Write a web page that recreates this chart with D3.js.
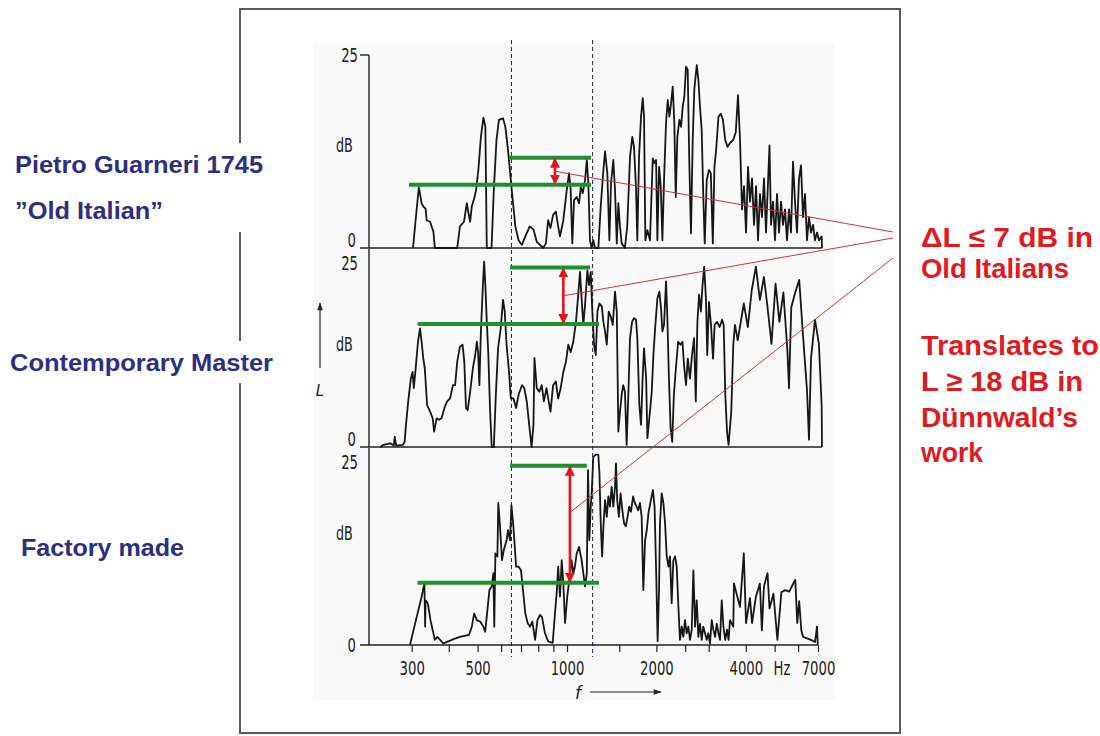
<!DOCTYPE html>
<html>
<head>
<meta charset="utf-8">
<script src="https://cdn.jsdelivr.net/npm/d3@7"></script>
<style>
  body { margin: 0; background: #fff; }
  .tick text, .num { font-family: "Liberation Sans Narrow", "DejaVu Sans Condensed", "Liberation Sans", sans-serif; font-size: 20px; fill: #222; }
</style>
</head>
<body>
<script>
var w = 1100, h = 736;

// spectra: [frequency in Hz, level in dB]
var guarneri = [[303,0],[317,7.9],[324,5.8],[328,5.4],[334,5.1],[337,3.6],[346,3.4],[355,2.1],[359,0],[427,0],[436,2.8],[450,3.4],[460,5.8],[466,4.5],[472,3.4],[478,5.4],[487,6.4],[494,7.5],[503,10.1],[513,14.4],[523,16.9],[531,15.7],[537,0],[557,0],[567,7.5],[579,14],[590,16.6],[609,16.8],[620,15.7],[633,12.7],[650,7.9],[670,2.8],[687,1.0],[705,0.4],[724,1.5],[749,2.8],[771,2.4],[791,0.8],[832,0],[849,0.6],[864,3.6],[880,2.6],[898,4.3],[917,4.7],[934,2.8],[947,1.5],[972,3.6],[998,7.5],[1016,9.7],[1029,7.5],[1042,0.6],[1056,6.2],[1078,6.6],[1098,5.8],[1113,7.9],[1130,7.1],[1150,8.8],[1166,11.4],[1180,8.4],[1195,1.0],[1211,0],[1226,1.0],[1243,0],[1275,0],[1299,5.4],[1326,10.1],[1343,12.5],[1367,9.7],[1389,1.0],[1407,8.4],[1432,11.4],[1451,7.5],[1471,0.6],[1489,5.8],[1508,2.8],[1528,0.6],[1567,0],[1595,2.8],[1630,11.8],[1659,14.4],[1681,13.1],[1707,7.9],[1725,1.0],[1748,11.8],[1775,17.0],[1799,19.4],[1817,17.0],[1836,1.0],[1865,2.3],[1903,1.0],[1944,11.6],[1968,11.0],[1995,11.4],[2015,1.0],[2042,10.5],[2069,7.9],[2095,1.0],[2122,8.8],[2155,16.2],[2184,19.2],[2212,17.0],[2240,18.7],[2270,20.9],[2298,16.2],[2324,6.6],[2353,14.4],[2390,16.6],[2421,15.7],[2453,18.3],[2483,19.6],[2516,23.5],[2549,23.1],[2581,11.0],[2615,1.9],[2650,14.0],[2683,20.5],[2734,23.7],[2769,21.8],[2804,18.3],[2841,15.3],[2877,6.6],[2909,0.6],[2954,8.8],[3008,10.1],[3049,9.7],[3097,0.6],[3136,10.5],[3178,12.7],[3236,17.0],[3297,17.4],[3349,16.6],[3410,14.0],[3472,13.1],[3538,13.6],[3630,14.0],[3700,15],[3765,19.8],[3824,14],[3884,5],[3945,8],[4007,2],[4069,10.5],[4132,6],[4197,9],[4263,3],[4330,8],[4397,1],[4465,7],[4535,4],[4606,9],[4678,2],[4806,13.3],[4863,3],[4939,6],[5016,1],[5094,7],[5174,2],[5255,6],[5337,3],[5420,5],[5505,1],[5591,5],[5678,2],[5767,11.2],[5857,6],[5949,2],[6041,9],[6136,10.7],[6232,4],[6329,7],[6428,1],[6528,4],[6630,2],[6734,3],[6839,1],[6946,2],[7054,1],[7203,1.5],[7220,0]];

var master = [[235,0],[241,0.3],[254,0.5],[261,0.2],[263,1.4],[266,0.2],[280,0.3],[284,0.7],[287,3.0],[292,6.2],[298,9.3],[302,10.2],[305,8.0],[310,11.1],[315,14.3],[320,16.1],[324,14.3],[328,12.1],[332,10.7],[338,5.7],[346,4.8],[353,3.9],[357,2.1],[364,3.9],[371,3.7],[378,3.9],[388,5.5],[395,6.2],[404,6.6],[413,8.4],[420,8.4],[427,11.6],[436,13.6],[445,13.9],[451,11.6],[457,5.3],[463,5.0],[472,7.5],[482,10.7],[491,12.5],[497,14.3],[502,12.9],[507,8.4],[513,15.7],[521,22.0],[526,25.2],[531,22.0],[537,17.0],[543,12.9],[551,4.8],[558,0],[567,0],[576,7.1],[586,13.4],[598,16.1],[609,20.0],[617,18.4],[626,13.9],[638,10.2],[647,6.6],[660,6.6],[674,5.3],[687,7.1],[705,8.4],[718,8.0],[732,6.2],[746,3.0],[760,0],[771,3.0],[777,12.1],[791,8.0],[807,7.5],[822,8.4],[836,6.2],[853,8.0],[864,6.6],[880,4.8],[898,8.4],[917,8.9],[934,6.6],[952,8.0],[972,10.2],[992,11.6],[1010,13.9],[1029,12.9],[1050,14.3],[1072,17.0],[1091,20.7],[1106,23.8],[1120,20.2],[1135,16.6],[1150,19.3],[1171,24.0],[1186,22.0],[1202,23.8],[1217,18.4],[1233,13.9],[1250,12.5],[1266,18.4],[1286,19.5],[1310,19.1],[1326,17.0],[1343,15.7],[1361,13.9],[1382,18.4],[1404,17.7],[1426,16.6],[1451,21.1],[1471,18.4],[1489,2.1],[1508,4.8],[1528,7.1],[1546,8.4],[1567,7.5],[1588,0.3],[1609,7.1],[1630,14.8],[1656,17.0],[1681,17.5],[1707,17.3],[1725,14.8],[1752,5.7],[1775,3.0],[1799,9.8],[1817,13.4],[1847,9.3],[1865,1.2],[1893,3.9],[1929,7.5],[1954,12.5],[1980,16.1],[2015,20.2],[2046,21.1],[2073,18.8],[2095,15.7],[2122,16.6],[2155,22.5],[2176,17.9],[2204,9.3],[2233,2.5],[2261,0.7],[2290,7.1],[2326,10.7],[2367,14.3],[2411,13.9],[2448,14.3],[2478,11.1],[2516,8.4],[2551,12.0],[2595,9.3],[2636,12.5],[2678,14.8],[2714,6.2],[2748,17.0],[2784,20.7],[2824,18.4],[2860,22.0],[2897,24.5],[2936,20.2],[2966,12.5],[3006,19.7],[3054,16.6],[3102,12.0],[3141,16.6],[3200,17.0],[3266,16.3],[3328,17.3],[3369,16.6],[3412,7.1],[3458,2.1],[3500,0.3],[3573,4.8],[3630,13.9],[3677,16.6],[3757,14.5],[3938,19.5],[4063,16.3],[4188,21.3],[4325,24.5],[4461,20],[4603,23.1],[4733,19],[4881,14],[5036,22.2],[5190,17],[5353,21],[5520,13.2],[5591,8],[5690,19],[5867,21],[6051,22.7],[6236,15],[6428,7.7],[6528,1],[6630,12],[6839,17.3],[7049,14],[7203,5.5],[7220,0]];

var factory = [[296,0],[310,3.4],[324,6.6],[331,8.4],[333,2.5],[334,6.1],[340,5.7],[347,3.4],[355,1.6],[359,0.7],[366,1.1],[374,0.7],[383,0.2],[393,0.4],[415,0.8],[436,1.1],[468,1.4],[478,2.5],[487,4.3],[497,3.4],[510,3.2],[523,2.5],[530,1.8],[537,3.9],[548,7.5],[558,8.0],[565,9.8],[569,2.5],[574,12.5],[583,12.1],[587,19.4],[595,16.2],[604,11.6],[613,13.0],[626,14.3],[633,15.7],[643,14.3],[650,19.1],[660,16.2],[674,10.7],[687,10.7],[700,10.2],[711,7.5],[724,4.3],[737,3.0],[751,2.5],[764,3.2],[781,0.7],[795,3.4],[811,4.1],[824,3.8],[843,1.6],[864,0.5],[895,0.3],[911,4.3],[923,7.1],[934,10.7],[947,6.6],[960,11.6],[972,8.4],[985,3.0],[1002,6.6],[1018,8.9],[1036,11.6],[1050,9.8],[1063,10.7],[1078,12.5],[1098,13.4],[1120,11.6],[1135,9.8],[1150,8.0],[1166,9.8],[1177,23.9],[1189,14.3],[1202,18.9],[1211,20.7],[1226,25.7],[1250,26.0],[1275,26.0],[1286,23.5],[1299,16.6],[1313,12.1],[1326,16.2],[1343,19.8],[1361,17.5],[1378,20.3],[1395,18.9],[1414,21.6],[1432,18.9],[1451,21.6],[1462,24.8],[1476,19.8],[1495,17.5],[1515,20.7],[1538,18.2],[1557,16.6],[1578,16.2],[1599,17.5],[1620,18.9],[1641,18.2],[1670,20.3],[1692,19.4],[1715,18.9],[1736,18.4],[1761,19.4],[1784,17.5],[1807,7.5],[1832,14.3],[1856,15.7],[1880,18.0],[1916,19.8],[1946,21.2],[1972,18.9],[1998,9.3],[2019,0.5],[2041,7.5],[2056,16.6],[2084,20.7],[2111,19.4],[2139,16.6],[2167,12.1],[2196,10.7],[2222,12.1],[2251,5.7],[2281,11.6],[2311,12.1],[2341,10.7],[2372,5.2],[2401,0.7],[2434,2.5],[2464,1.1],[2496,3.4],[2529,1.6],[2561,2.5],[2595,0.7],[2630,2.1],[2664,10.2],[2699,2.5],[2734,6.1],[2769,1.1],[2804,2.9],[2841,0.7],[2877,2.5],[2916,1.6],[2954,0.7],[2991,1.6],[3030,0.2],[3071,3.4],[3110,2.1],[3152,1.1],[3193,2.9],[3236,1.6],[3275,0.7],[3319,6.1],[3363,2.5],[3410,0.7],[3458,2.1],[3500,0.7],[3538,3.4],[3630,2.5],[3648,8.4],[3824,5.2],[3938,12.5],[4006,3],[4130,6.4],[4197,3],[4325,6.6],[4461,8.4],[4530,2],[4603,8],[4733,9.8],[4806,5],[4955,7],[5110,0.7],[5270,7.2],[5435,7.5],[5600,7.3],[5780,8.4],[5870,8.9],[5960,3],[6050,6],[6150,2],[6236,1.1],[6428,0.9],[6630,0.7],[6839,0.4],[6946,2.5],[6990,0]];

var freqTicks = [300,400,500,600,700,800,900,1000,1500,2000,2500,3000,4000,5000,6000,7000];
var freqLabels = [300,500,1000,2000,4000,7000];
var bandEdges = [650, 1220];          // dashed lines, Hz

// green reference levels per panel (dB) and their spans (Hz)
var levelHigh = [11.7, 24.4, 24.5];
var levelLow  = [8.2, 16.7, 8.5];
var spanHigh  = [[638,1205],[643,1195],[643,1166]];
var spanLow   = [[294,1205],[314,1281],[314,1281]];
var arrowFreq = [911, 972, 1023];

var instruments = ['Pietro Guarneri 1745', '\u201DOld Italian\u201D', 'Contemporary Master', 'Factory made'];
var noteA = ['\u0394L \u2264 7 dB in', 'Old Italians'];
var noteB = ['Translates to', 'L \u2265 18 dB in', 'D\u00FCnnwald\u2019s', 'work'];

// layout
var panelBase = [248, 447, 645];
var panelTop  = [55, 263, 462];
var axisX = 369, tickX = 360;
var charW = 8.4;   // narrow scan lettering

var svg = d3.select('body').append('svg')
    .attr('width', w)
    .attr('height', h);

var x = d3.scaleLog().domain([300, 7000]).range([411.7, 818]);

function narrow(sel) {
    sel.attr('textLength', function() { return this.textContent.length * charW; })
       .attr('lengthAdjust', 'spacingAndGlyphs');
}

// scanned sheet
svg.append('rect').attr('x', 313).attr('y', 43).attr('width', 522).attr('height', 657)
    .attr('fill', '#f9f9f9');
svg.append('rect').attr('x', 240).attr('y', 9).attr('width', 660).attr('height', 724)
    .attr('fill', 'none').attr('stroke', '#5a5a5a').attr('stroke-width', 2);

var defs = svg.append('defs');
defs.append('marker').attr('id', 'redhead')
    .attr('viewBox', '0 0 10 10').attr('refX', 8).attr('refY', 5)
    .attr('markerWidth', 10).attr('markerHeight', 10)
    .attr('markerUnits', 'userSpaceOnUse')
    .attr('orient', 'auto-start-reverse')
  .append('path').attr('d', 'M0,0L10,5L0,10z').attr('fill', '#e3141c');
defs.append('marker').attr('id', 'blackhead')
    .attr('viewBox', '0 0 10 10').attr('refX', 9).attr('refY', 5)
    .attr('markerWidth', 14).attr('markerHeight', 8)
    .attr('markerUnits', 'userSpaceOnUse')
    .attr('orient', 'auto')
  .append('path').attr('d', 'M0,1.5L10,5L0,8.5z').attr('fill', '#222');

// dashed band lines
svg.append('g').selectAll('line')
    .data(bandEdges)
    .enter()
    .append('line')
    .attr('x1', d => x(d)).attr('x2', d => x(d))
    .attr('y1', 40).attr('y2', 657)
    .attr('stroke', '#1c1c40').attr('stroke-width', 1)
    .attr('stroke-dasharray', '4,3');

var spectra = [guarneri, master, factory];
var arrowMid = [];

spectra.forEach(function(data, i) {
    var y = d3.scaleLinear().domain([0, 25]).range([panelBase[i], panelTop[i]]);
    var g = svg.append('g');
    var line = d3.line()
        .x(d => x(d[0]))
        .y(d => y(d[1]));

    // axes
    g.append('line')
        .attr('x1', tickX).attr('x2', x(data[data.length - 1][0]))
        .attr('y1', y(0)).attr('y2', y(0))
        .attr('stroke', '#222').attr('stroke-width', 1.6);
    g.append('line')
        .attr('x1', axisX).attr('x2', axisX)
        .attr('y1', i == 0 ? y(25) : panelBase[i - 1] + 1).attr('y2', y(0))
        .attr('stroke', '#222').attr('stroke-width', 1.4);
    if (i == 0) {
        g.append('line')
            .attr('x1', tickX).attr('x2', axisX).attr('y1', y(25)).attr('y2', y(25))
            .attr('stroke', '#222').attr('stroke-width', 1.4);
    }
    g.append('text').attr('class', 'num')
        .attr('x', 358).attr('y', y(25) + 7)
        .attr('text-anchor', 'end').text('25').call(narrow);
    g.append('text').attr('class', 'num')
        .attr('x', 356).attr('y', i == 2 ? y(0) + 7 : y(0) - 1)
        .attr('text-anchor', 'end').text('0').call(narrow);
    g.append('text').attr('class', 'num')
        .attr('x', 336).attr('y', y(0) - (i == 2 ? 105 : 96))
        .text('dB').call(narrow);

    g.append('path')
        .datum(data)
        .attr('d', line)
        .attr('fill', 'none')
        .attr('stroke', '#161616')
        .attr('stroke-width', 1.8)
        .attr('stroke-linejoin', 'round');

    // green reference levels
    var levels = [[spanHigh[i], levelHigh[i]], [spanLow[i], levelLow[i]]];
    g.selectAll('.lvl')
        .data(levels)
        .enter()
        .append('line')
        .attr('x1', d => x(d[0][0])).attr('x2', d => x(d[0][1]))
        .attr('y1', d => y(d[1])).attr('y2', d => y(d[1]))
        .attr('stroke', '#21912e').attr('stroke-width', 4);

    // red double arrow
    g.append('line')
        .attr('x1', x(arrowFreq[i])).attr('x2', x(arrowFreq[i]))
        .attr('y1', y(levelHigh[i]) + 2).attr('y2', y(levelLow[i]) - 2)
        .attr('stroke', '#e3141c').attr('stroke-width', 2.6)
        .attr('marker-start', 'url(#redhead)')
        .attr('marker-end', 'url(#redhead)');

    var frac = i == 2 ? 0.4 : 0.5;
    arrowMid.push([x(arrowFreq[i]), y(levelHigh[i]) + frac * (y(levelLow[i]) - y(levelHigh[i]))]);
});

// frequency axis under the bottom panel
var xAxis = d3.axisBottom(x)
    .tickValues(freqTicks)
    .tickSize(7)
    .tickPadding(9)
    .tickFormat(d => freqLabels.indexOf(d) >= 0 ? d : '');
svg.append('g')
    .attr('transform', 'translate(0,' + panelBase[2] + ')')
    .call(xAxis)
    .call(g => g.select('.domain').remove())
    .call(g => g.selectAll('.tick line').attr('stroke', '#222').attr('stroke-width', 1.2))
    .call(g => g.selectAll('.tick text').attr('fill', '#222').filter(function() { return this.textContent; }).call(narrow));

svg.append('text').attr('class', 'num')
    .attr('x', (x(4000) + x(7000)) / 2).attr('y', 675)
    .attr('text-anchor', 'middle').text('Hz').call(narrow);

// f --> and L arrow
svg.append('text')
    .attr('x', 578).attr('y', 699)
    .attr('text-anchor', 'middle')
    .style('font', 'italic 17px "DejaVu Sans", sans-serif').attr('fill', '#222')
    .text('f');
svg.append('line')
    .attr('x1', 590).attr('x2', 661).attr('y1', 692).attr('y2', 692)
    .attr('stroke', '#222').attr('stroke-width', 1.2)
    .attr('marker-end', 'url(#blackhead)');
svg.append('line')
    .attr('x1', 320).attr('x2', 320).attr('y1', 368).attr('y2', 303)
    .attr('stroke', '#222').attr('stroke-width', 1.2)
    .attr('marker-end', 'url(#blackhead)');
svg.append('text')
    .attr('x', 320).attr('y', 396)
    .attr('text-anchor', 'middle')
    .style('font', 'italic 15px "DejaVu Sans", sans-serif').attr('fill', '#222')
    .text('L');

// right hand notes
var noteX = 921;
var noteABase = [247, 278];
var noteBBase = [355, 391, 427, 462];
var noteALen = [172, 148];
var noteBLen = [178, 162, 157, 62];

svg.append('g').selectAll('text')
    .data(noteA.map((t, k) => [t, noteABase[k], noteALen[k]]).concat(
          noteB.map((t, k) => [t, noteBBase[k], noteBLen[k]])))
    .enter()
    .append('text')
    .attr('x', noteX).attr('y', d => d[1])
    .attr('textLength', d => d[2]).attr('lengthAdjust', 'spacingAndGlyphs')
    .style('font', 'bold 28px "Liberation Sans", Arial, sans-serif')
    .attr('fill', '#e01a21')
    .text(d => d[0]);

// thin red pointers from each arrow to the note
var pointTo = [noteABase[0] - 15, noteABase[0] - 9, noteABase[0] + 11];
svg.append('g').selectAll('line')
    .data(arrowMid)
    .enter()
    .append('line')
    .attr('x1', d => d[0]).attr('y1', d => d[1])
    .attr('x2', noteX - 28).attr('y2', (d, k) => pointTo[k])
    .attr('stroke', '#d2303c').attr('stroke-width', 1);

// instrument labels (white backing breaks the frame line)
svg.append('rect').attr('x', 6).attr('y', 143).attr('width', 264).attr('height', 89).attr('fill', '#fff');
svg.append('rect').attr('x', 4).attr('y', 341).attr('width', 274).attr('height', 42).attr('fill', '#fff');

var labelX = [15, 15, 10, 21];
var labelY = [173, 219, 371, 556];
var labelLen = [248, 148, 263, 163];
svg.append('g').selectAll('text')
    .data(instruments)
    .enter()
    .append('text')
    .attr('x', (d, k) => labelX[k]).attr('y', (d, k) => labelY[k])
    .attr('textLength', (d, k) => labelLen[k]).attr('lengthAdjust', 'spacingAndGlyphs')
    .style('font', 'bold 23px "Liberation Sans", Arial, sans-serif')
    .attr('fill', '#2d2f80')
    .text(d => d);
</script>
</body>
</html>
